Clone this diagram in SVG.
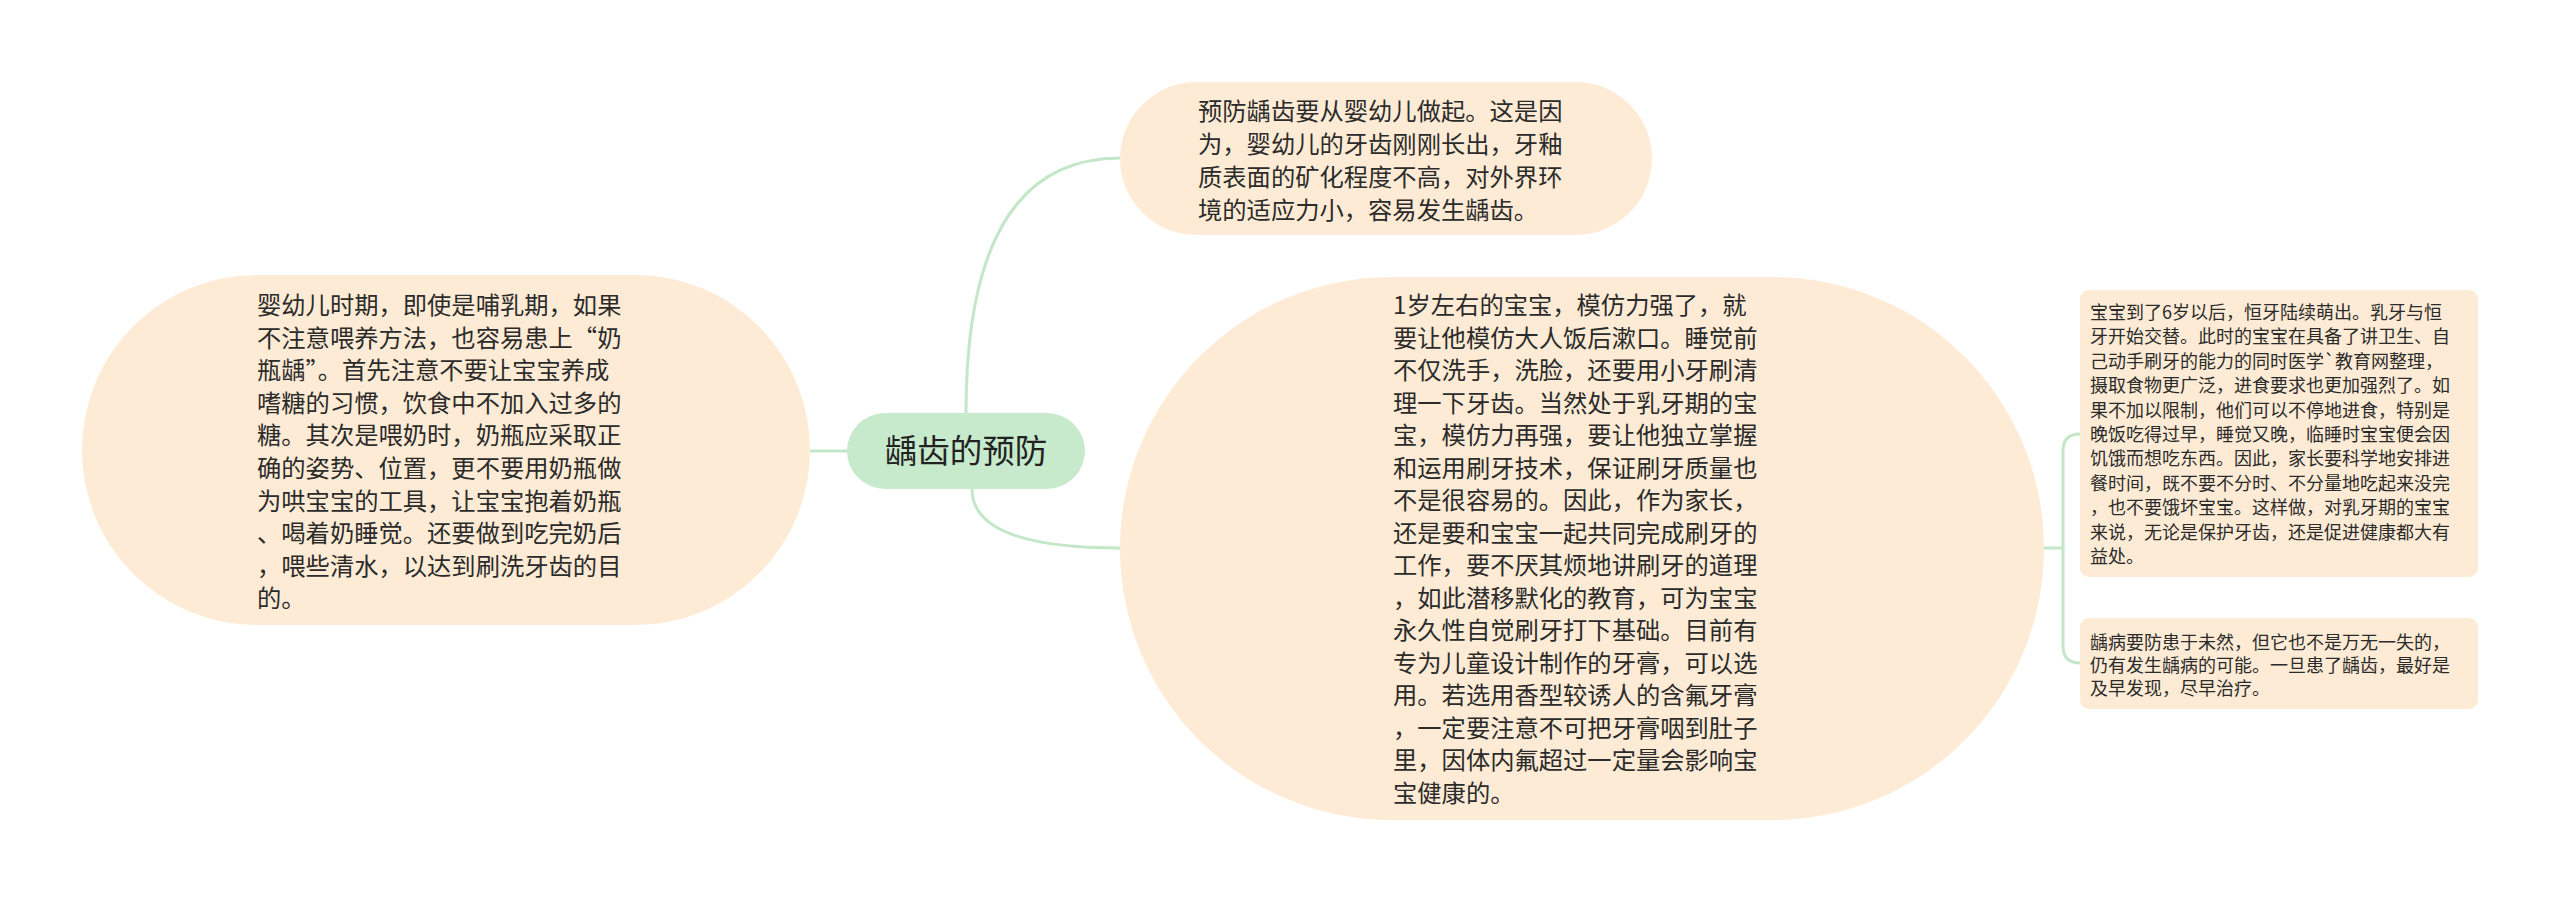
<svg xmlns="http://www.w3.org/2000/svg" width="2560" height="903" viewBox="0 0 2560 903">
<style>
.bg{fill:#ffffff}
.link{fill:none;stroke:#c3e7c8;stroke-width:3;stroke-linecap:round}
.node{fill:#feebd5}
.root{fill:#c6eacb}
.t{font-family:"Microsoft YaHei","Noto Sans CJK SC","Noto Sans",sans-serif;fill:#2b2b2b}
.big{font-size:24.3px}
.small{font-size:18px}
.rt{font-size:32.5px;text-anchor:middle;fill:#222}
</style>
<rect class="bg" x="0" y="0" width="2560" height="903"/>
<g id="connectors">
<path class="link" d="M847 451 L810 451"/>
<path class="link" d="M966 413 Q966 158 1120 158"/>
<path class="link" d="M972 489 Q972 548 1120 548"/>
<path class="link" d="M2044 548 L2063 548"/>
<path class="link" d="M2063 548 L2063 451 Q2063 434 2080 434"/>
<path class="link" d="M2063 548 L2063 646 Q2063 663 2080 663"/>
</g>
<g id="root">
<rect class="root" x="847" y="413" width="238" height="76" rx="38" ry="38"/>
<text class="t rt" x="966" y="463">龋齿的预防</text>
</g>
<g id="node-top">
<rect class="node" x="1120" y="82" width="532" height="153" rx="76.5" ry="76.5"/>
<text class="t big">
<tspan x="1198" y="120">预防龋齿要从婴幼儿做起。这是因</tspan>
<tspan x="1198" y="153">为，婴幼儿的牙齿刚刚长出，牙釉</tspan>
<tspan x="1198" y="186">质表面的矿化程度不高，对外界环</tspan>
<tspan x="1198" y="219">境的适应力小，容易发生龋齿。</tspan>
</text>
</g>
<g id="node-left">
<rect class="node" x="82" y="275" width="728" height="350" rx="175" ry="175"/>
<text class="t big">
<tspan x="257" y="314">婴幼儿时期，即使是哺乳期，如果</tspan>
<tspan x="257" y="346.6">不注意喂养方法，也容易患上“奶</tspan>
<tspan x="257" y="379.2">瓶龋”。首先注意不要让宝宝养成</tspan>
<tspan x="257" y="411.8">嗜糖的习惯，饮食中不加入过多的</tspan>
<tspan x="257" y="444.4">糖。其次是喂奶时，奶瓶应采取正</tspan>
<tspan x="257" y="477">确的姿势、位置，更不要用奶瓶做</tspan>
<tspan x="257" y="509.6">为哄宝宝的工具，让宝宝抱着奶瓶</tspan>
<tspan x="257" y="542.2">、喝着奶睡觉。还要做到吃完奶后</tspan>
<tspan x="257" y="574.8">，喂些清水，以达到刷洗牙齿的目</tspan>
<tspan x="257" y="607.4">的。</tspan>
</text>
</g>
<g id="node-center">
<rect class="node" x="1120" y="277" width="924" height="543" rx="271.5" ry="271.5"/>
<text class="t big">
<tspan x="1393" y="314">1岁左右的宝宝，模仿力强了，就</tspan>
<tspan x="1393" y="346.5">要让他模仿大人饭后漱口。睡觉前</tspan>
<tspan x="1393" y="379">不仅洗手，洗脸，还要用小牙刷清</tspan>
<tspan x="1393" y="411.5">理一下牙齿。当然处于乳牙期的宝</tspan>
<tspan x="1393" y="444">宝，模仿力再强，要让他独立掌握</tspan>
<tspan x="1393" y="476.5">和运用刷牙技术，保证刷牙质量也</tspan>
<tspan x="1393" y="509">不是很容易的。因此，作为家长，</tspan>
<tspan x="1393" y="541.5">还是要和宝宝一起共同完成刷牙的</tspan>
<tspan x="1393" y="574">工作，要不厌其烦地讲刷牙的道理</tspan>
<tspan x="1393" y="606.5">，如此潜移默化的教育，可为宝宝</tspan>
<tspan x="1393" y="639">永久性自觉刷牙打下基础。目前有</tspan>
<tspan x="1393" y="671.5">专为儿童设计制作的牙膏，可以选</tspan>
<tspan x="1393" y="704">用。若选用香型较诱人的含氟牙膏</tspan>
<tspan x="1393" y="736.5">，一定要注意不可把牙膏咽到肚子</tspan>
<tspan x="1393" y="769">里，因体内氟超过一定量会影响宝</tspan>
<tspan x="1393" y="801.5">宝健康的。</tspan>
</text>
</g>
<g id="node-right-1">
<rect class="node" x="2080" y="290" width="398" height="287" rx="9" ry="9"/>
<text class="t small">
<tspan x="2090" y="319">宝宝到了6岁以后，恒牙陆续萌出。乳牙与恒</tspan>
<tspan x="2090" y="343.4">牙开始交替。此时的宝宝在具备了讲卫生、自</tspan>
<tspan x="2090" y="367.8">己动手刷牙的能力的同时医学`教育网整理，</tspan>
<tspan x="2090" y="392.2">摄取食物更广泛，进食要求也更加强烈了。如</tspan>
<tspan x="2090" y="416.6">果不加以限制，他们可以不停地进食，特别是</tspan>
<tspan x="2090" y="441">晚饭吃得过早，睡觉又晚，临睡时宝宝便会因</tspan>
<tspan x="2090" y="465.4">饥饿而想吃东西。因此，家长要科学地安排进</tspan>
<tspan x="2090" y="489.8">餐时间，既不要不分时、不分量地吃起来没完</tspan>
<tspan x="2090" y="514.2">，也不要饿坏宝宝。这样做，对乳牙期的宝宝</tspan>
<tspan x="2090" y="538.6">来说，无论是保护牙齿，还是促进健康都大有</tspan>
<tspan x="2090" y="563">益处。</tspan>
</text>
</g>
<g id="node-right-2">
<rect class="node" x="2080" y="618" width="398" height="91" rx="9" ry="9"/>
<text class="t small">
<tspan x="2090" y="648.5">龋病要防患于未然，但它也不是万无一失的，</tspan>
<tspan x="2090" y="671.8">仍有发生龋病的可能。一旦患了龋齿，最好是</tspan>
<tspan x="2090" y="695">及早发现，尽早治疗。</tspan>
</text>
</g>
</svg>
